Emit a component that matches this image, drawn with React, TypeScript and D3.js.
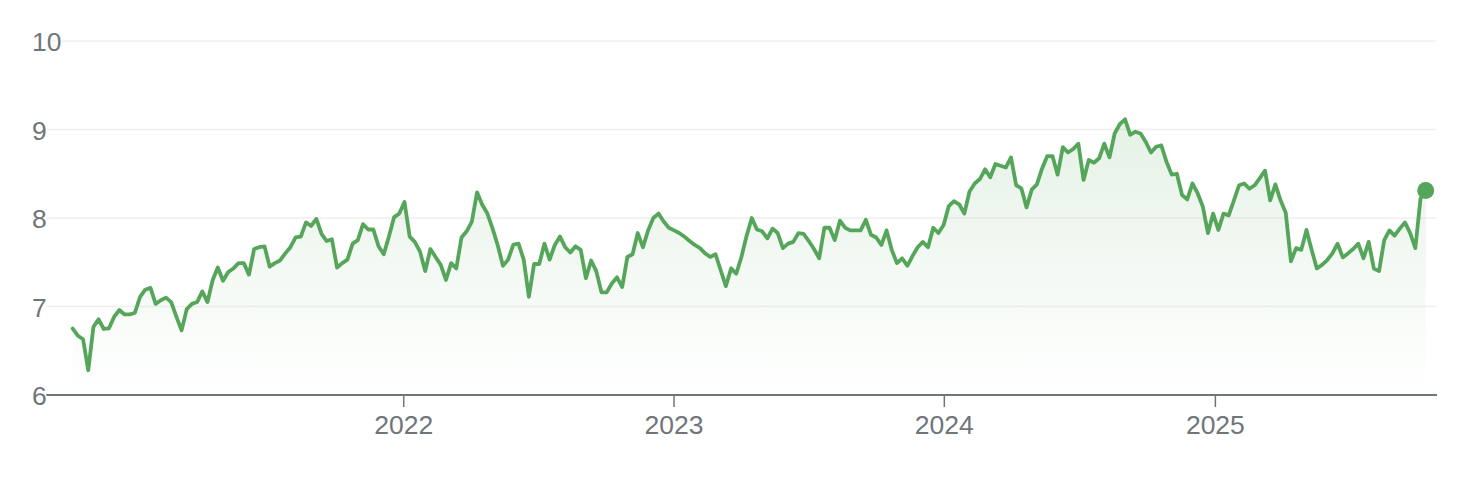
import React from "react";
import * as d3 from "d3";

const START_DATE = "2020-10-11";
const END_DATE = "2025-10-12";
const yTicks = [6, 7, 8, 9, 10];
const xTickYears = [2022, 2023, 2024, 2025];

const values: number[] = [
  6.75, 6.67, 6.63, 6.28, 6.77, 6.855, 6.746, 6.754, 6.885, 6.96,
  6.91, 6.91, 6.93, 7.11, 7.19, 7.21, 7.03, 7.07, 7.1, 7.05,
  6.885, 6.73, 6.97, 7.03, 7.05, 7.17, 7.05, 7.3, 7.44, 7.29,
  7.39, 7.43, 7.49, 7.49, 7.36, 7.65, 7.67, 7.68, 7.45, 7.49,
  7.52, 7.6, 7.67, 7.78, 7.79, 7.95, 7.91, 7.99, 7.82, 7.74,
  7.76, 7.44, 7.49, 7.53, 7.71, 7.75, 7.93, 7.87, 7.87, 7.68,
  7.59, 7.79, 8.01, 8.05, 8.18, 7.79, 7.73, 7.62, 7.4, 7.65,
  7.56, 7.47, 7.3, 7.49, 7.43, 7.78, 7.85, 7.96, 8.29, 8.15,
  8.05, 7.88, 7.69, 7.46, 7.53, 7.7, 7.71, 7.53, 7.11, 7.48,
  7.48, 7.71, 7.53, 7.695, 7.79, 7.67, 7.61, 7.68, 7.64, 7.32,
  7.52, 7.4, 7.16, 7.16, 7.26, 7.33, 7.22, 7.56, 7.59, 7.83,
  7.67, 7.86, 8.0, 8.05, 7.96, 7.89, 7.86, 7.83, 7.79, 7.74,
  7.695, 7.66, 7.6, 7.56, 7.59, 7.41, 7.23, 7.43, 7.37, 7.56,
  7.8, 8.0, 7.87, 7.85, 7.77, 7.88, 7.83, 7.66, 7.71, 7.73,
  7.83, 7.82, 7.74, 7.65, 7.545, 7.89, 7.89, 7.75, 7.97, 7.89,
  7.86, 7.86, 7.86, 7.98, 7.81, 7.78, 7.695, 7.86, 7.64, 7.49,
  7.545, 7.46, 7.57, 7.67, 7.73, 7.67, 7.89, 7.83, 7.92, 8.135,
  8.19, 8.155, 8.05, 8.3, 8.39, 8.44, 8.55, 8.46, 8.61, 8.59,
  8.57, 8.685, 8.37, 8.335, 8.12, 8.32, 8.38, 8.56, 8.7, 8.7,
  8.49, 8.8, 8.74, 8.78, 8.84, 8.43, 8.655, 8.625, 8.675, 8.84,
  8.685, 8.955, 9.06, 9.115, 8.94, 8.975, 8.955, 8.86, 8.74, 8.805,
  8.82, 8.635, 8.49, 8.5, 8.26, 8.21, 8.39, 8.28, 8.13, 7.83,
  8.05, 7.865, 8.05, 8.03, 8.2, 8.37, 8.39, 8.33, 8.37, 8.45,
  8.535, 8.2, 8.38, 8.2, 8.06, 7.51, 7.66, 7.64, 7.865, 7.64,
  7.43, 7.47, 7.525, 7.6, 7.71, 7.555, 7.6, 7.65, 7.71, 7.545,
  7.73, 7.43, 7.4, 7.75, 7.86, 7.8, 7.88, 7.95, 7.83, 7.66,
  8.22, 8.31,
];

const W = 1482;
const H = 486;
const GREEN = "#55a65a";
const GREY = "#70757a";

export default function App() {
  const start = new Date(START_DATE + "T00:00:00");
  const end = new Date(END_DATE + "T00:00:00");
  const data = values.map((v, i) => ({
    date: i === values.length - 1 ? end : d3.timeDay.offset(start, 7 * i),
    value: v,
  }));

  const x = d3.scaleTime().domain([start, end]).range([72.7, 1425.7]);
  const y = d3.scaleLinear().domain([6, 10]).range([395, 41]);

  const line = d3
    .line<{ date: Date; value: number }>()
    .x((d) => x(d.date))
    .y((d) => y(d.value))
    .curve(d3.curveLinear);
  const area = d3
    .area<{ date: Date; value: number }>()
    .x((d) => x(d.date))
    .y0(y(6))
    .y1((d) => y(d.value))
    .curve(d3.curveLinear);

  const maxV = d3.max(values) as number;
  const last = data[data.length - 1];

  return (
    <svg
      width={W}
      height={H}
      style={{ position: "absolute", left: 0, top: 0, background: "#fff" }}
      fontFamily="Arial, 'Liberation Sans', Helvetica, sans-serif"
    >
      <defs>
        <linearGradient
          id="fillGrad"
          gradientUnits="userSpaceOnUse"
          x1={0}
          x2={0}
          y1={y(maxV)}
          y2={y(6)}
        >
          <stop offset="0%" stopColor={GREEN} stopOpacity={0.15} />
          <stop offset="100%" stopColor={GREEN} stopOpacity={0} />
        </linearGradient>
      </defs>
      {yTicks
        .filter((t) => t !== 6)
        .map((t) => (
          <line
            key={"g" + t}
            x1={47}
            x2={1436}
            y1={y(t)}
            y2={y(t)}
            stroke="#efefef"
            strokeWidth={1.5}
          />
        ))}
      <path d={area(data) || ""} fill="url(#fillGrad)" />
      <line x1={46} x2={1437} y1={y(6)} y2={y(6)} stroke={GREY} strokeWidth={2} />
      {xTickYears.map((yr) => {
        const d = new Date(yr, 0, 1);
        const xx = x(d);
        return (
          <g key={"x" + yr}>
            <line x1={xx} x2={xx} y1={y(6)} y2={y(6) + 12} stroke={GREY} strokeWidth={1.5} />
            <text x={xx} y={434} textAnchor="middle" fontSize={26.5} fill={GREY}>
              {yr}
            </text>
          </g>
        );
      })}
      {yTicks.map((t) => (
        <text
          key={"y" + t}
          x={32}
          y={y(t) + 10}
          textAnchor="start"
          fontSize={26.5}
          fill={GREY}
          stroke="#fff"
          strokeWidth={3}
          paintOrder="stroke"
        >
          {t}
        </text>
      ))}
      <path
        d={line(data) || ""}
        fill="none"
        stroke={GREEN}
        strokeWidth={3.8}
        strokeLinejoin="round"
        strokeLinecap="round"
      />
      <circle cx={x(last.date)} cy={y(last.value)} r={8.5} fill={GREEN} />
    </svg>
  );
}
